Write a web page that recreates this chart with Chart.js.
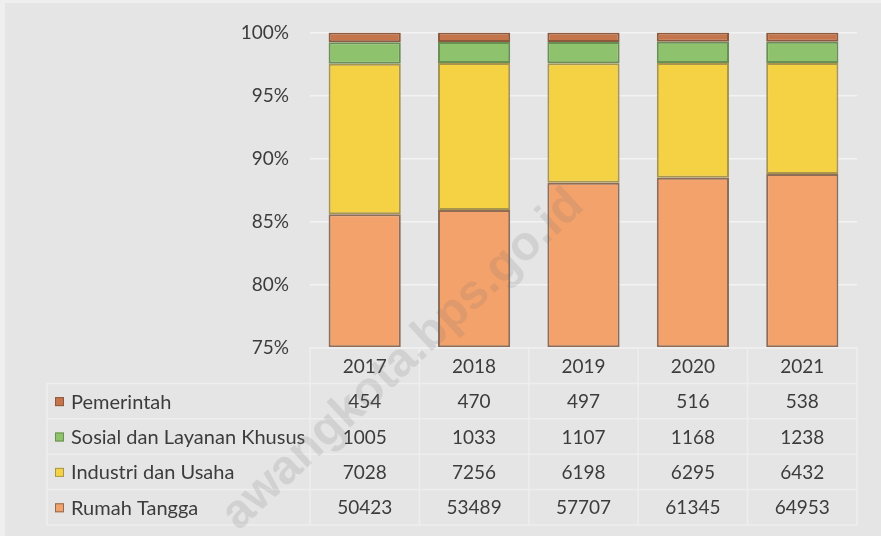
<!DOCTYPE html>
<html>
<head>
<meta charset="utf-8">
<script src="https://cdn.jsdelivr.net/npm/chart.js@4.4.1/dist/chart.umd.min.js"></script>
<style>
  html, body { margin: 0; padding: 0; background: #efefef; }
  #wrap { width: 881px; height: 536px; }
</style>
</head>
<body>
<div id="wrap"><canvas id="c" width="881" height="536"></canvas></div>
<script>
// ---- data ----
const years = ['2017', '2018', '2019', '2020', '2021'];
const pemerintah  = [454, 470, 497, 516, 538];
const sosial      = [1005, 1033, 1107, 1168, 1238];
const industri    = [7028, 7256, 6198, 6295, 6432];
const rumahTangga = [50423, 53489, 57707, 61345, 64953];
const seriesNames = ['Pemerintah', 'Sosial dan Layanan Khusus', 'Industri dan Usaha', 'Rumah Tangga'];
const yMin = 0.75, yMax = 1.0, yStep = 0.05;

// ---- styles ----
const FONT = 'Lato, "Open Sans", sans-serif';
const TEXT = '#3c3c3c';
const fills   = { pem: '#C4754B', sos: '#8EC26C', ind: '#F5D244', rt: '#F4A26B' };
const borders = { pem: '#8E5A3E', sos: '#6A8F55', ind: '#A8964F', rt: '#8F6C56' };

const totals = years.map((_, i) => pemerintah[i] + sosial[i] + industri[i] + rumahTangga[i]);
const share = arr => arr.map((v, i) => v / totals[i]);

// table rows, top to bottom
const tableRows = [
  { name: seriesNames[0], vals: pemerintah,  key: 'pem' },
  { name: seriesNames[1], vals: sosial,      key: 'sos' },
  { name: seriesNames[2], vals: industri,    key: 'ind' },
  { name: seriesNames[3], vals: rumahTangga, key: 'rt' }
];

const bgPlugin = {
  id: 'bg',
  beforeDraw(chart) {
    const ctx = chart.ctx;
    ctx.save();
    ctx.fillStyle = '#efefef';
    ctx.fillRect(0, 0, chart.width, chart.height);
    ctx.fillStyle = '#e5e5e5';
    ctx.fillRect(5, 3, chart.width - 5, chart.height - 3);
    ctx.restore();
  }
};

const tablePlugin = {
  id: 'dataTable',
  afterDatasetsDraw(chart) {
    const ctx = chart.ctx;
    const area = chart.chartArea;
    const x = chart.scales.x;
    const n = years.length;
    const colW = (area.right - area.left) / n;
    const rowH = 35.4;
    const top = area.bottom;
    const labelLeft = 47;
    ctx.save();
    ctx.strokeStyle = '#eeeeee';
    ctx.lineWidth = 1.5;
    ctx.beginPath();
    ctx.moveTo(area.left, top); ctx.lineTo(area.right, top);
    for (let r = 1; r <= tableRows.length + 1; r++) {
      const y = top + r * rowH;
      ctx.moveTo(labelLeft, y); ctx.lineTo(area.right, y);
    }
    for (let c = 0; c <= n; c++) {
      const xx = area.left + c * colW;
      ctx.moveTo(xx, top); ctx.lineTo(xx, top + (tableRows.length + 1) * rowH);
    }
    ctx.moveTo(labelLeft, top + rowH); ctx.lineTo(labelLeft, top + (tableRows.length + 1) * rowH);
    ctx.stroke();

    ctx.textBaseline = 'middle';
    ctx.textAlign = 'center';
    ctx.fillStyle = TEXT;
    ctx.font = '19px ' + FONT;
    years.forEach((yr, i) => {
      ctx.fillText(yr, x.getPixelForValue(i), top + rowH / 2 + 1);
    });
    tableRows.forEach((row, r) => {
      const cy = top + (r + 1) * rowH + rowH / 2 + 1;
      ctx.textAlign = 'center';
      ctx.fillStyle = TEXT;
      ctx.font = '19px ' + FONT;
      row.vals.forEach((v, i) => ctx.fillText(String(v), x.getPixelForValue(i), cy));
      // legend key
      ctx.fillStyle = fills[row.key];
      ctx.fillRect(55, cy - 5, 9, 9);
      ctx.strokeStyle = borders[row.key];
      ctx.lineWidth = 1;
      ctx.strokeRect(55.5, cy - 4.5, 8, 8);
      ctx.textAlign = 'left';
      ctx.fillStyle = TEXT;
      ctx.font = '20px ' + FONT;
      ctx.fillText(row.name, 71, cy);
    });
    ctx.restore();
  },
  afterDraw(chart) {
    // watermark
    const ctx = chart.ctx;
    ctx.save();
    ctx.translate(403, 360);
    ctx.rotate(-43 * Math.PI / 180);
    ctx.font = 'bold 48px "Liberation Sans", Arial, sans-serif';
    ctx.fillStyle = 'rgba(110,110,110,0.17)';
    ctx.textAlign = 'center';
    ctx.textBaseline = 'middle';
    ctx.fillText('awangkota.bps.go.id', 0, 0);
    ctx.restore();
  }
};

const common = { borderWidth: 2, borderSkipped: false, barPercentage: 0.66, categoryPercentage: 1.0 };

new Chart(document.getElementById('c'), {
  type: 'bar',
  data: {
    labels: years,
    datasets: [
      { label: seriesNames[3], data: share(rumahTangga), backgroundColor: fills.rt,  borderColor: borders.rt,  base: yMin, ...common },
      { label: seriesNames[2], data: share(industri),    backgroundColor: fills.ind, borderColor: borders.ind, ...common },
      { label: seriesNames[1], data: share(sosial),      backgroundColor: fills.sos, borderColor: borders.sos, ...common },
      { label: seriesNames[0], data: share(pemerintah),  backgroundColor: fills.pem, borderColor: borders.pem, ...common }
    ]
  },
  options: {
    responsive: false,
    animation: false,
    layout: { padding: { left: 0, right: 24, top: 32, bottom: 188 } },
    plugins: { legend: { display: false }, tooltip: { enabled: false } },
    scales: {
      x: { stacked: true, display: false },
      y: {
        stacked: true,
        min: yMin, max: yMax,
        afterFit(scale) { scale.width = 310; },
        border: { display: false },
        grid: { color: '#f3f3f3', lineWidth: 1.5, drawTicks: false },
        ticks: {
          stepSize: yStep,
          padding: 21,
          color: TEXT,
          font: { family: FONT, size: 19 },
          callback: v => Math.round(v * 100) + '%'
        }
      }
    }
  },
  plugins: [bgPlugin, tablePlugin]
});
</script>
</body>
</html>
